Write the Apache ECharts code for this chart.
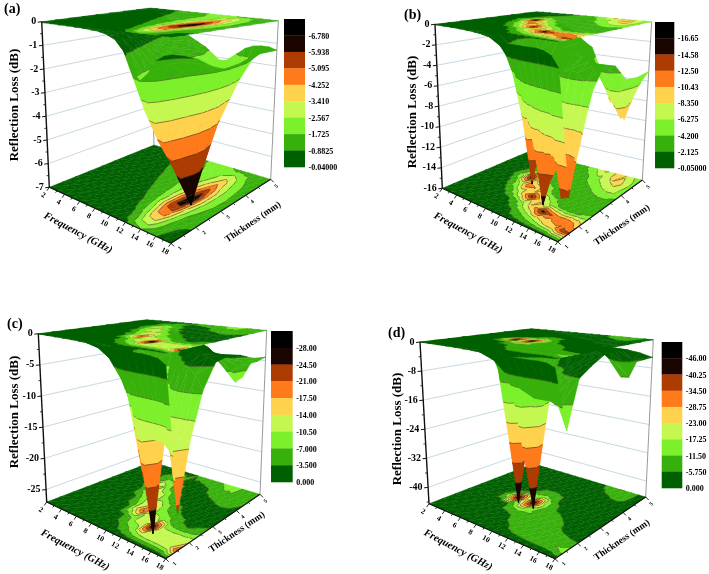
<!DOCTYPE html>
<html><head><meta charset="utf-8">
<style>html,body{margin:0;padding:0;background:#fff}#c{width:709px;height:574px}</style>
<script src="https://cdn.jsdelivr.net/npm/echarts@6/dist/echarts.min.js"></script>
</head><body><div id="c"></div>
<script>
const frequencies=[2,3,4,5,6,7,8,9,10,11,12,13,14,15,16,17,18];
const thicknesses=[1,1.5,2,2.5,3,3.5,4,4.5,5];
const freqTicks=[2,4,6,8,10,12,14,16,18];
const thickTicks=[1,2,3,4,5];
const bandColors=['#006000','#38b00c','#7cf02a','#c4f850','#ffd24d','#ff7a1a','#ad3c02','#1a0500','#000000'];

const surfaceA=[
[-.04,-.04,-.05,-.05,-.06,-.07,-.09,-.12,-.2,-.35,-.7,-1.3,-1.7,-1.4,-.9,-.7,-.6],
[-.04,-.05,-.05,-.06,-.07,-.1,-.14,-.22,-.35,-.7,-1.5,-3.0,-3.2,-2.0,-1.1,-.8,-.75],
[-.05,-.05,-.06,-.08,-.1,-.15,-.25,-.4,-.7,-1.2,-2.4,-4.3,-4.5,-2.7,-1.5,-1.1,-.95],
[-.05,-.06,-.08,-.1,-.15,-.25,-.4,-.7,-1.0,-1.7,-3.2,-5.4,-5.7,-3.3,-1.9,-1.4,-1.3],
[-.06,-.07,-.1,-.15,-.25,-.4,-.65,-.95,-1.3,-1.9,-3.0,-5.0,-7.2,-4.0,-2.3,-1.7,-1.55],
[-.06,-.09,-.15,-.25,-.4,-.6,-.9,-1.2,-1.5,-2.0,-2.9,-4.2,-5.8,-3.9,-2.4,-1.75,-1.5],
[-.07,-.12,-.2,-.4,-.6,-.85,-1.1,-1.4,-1.6,-1.9,-2.4,-3.3,-4.4,-3.2,-2.2,-1.6,-1.35],
[-.08,-.15,-.3,-.55,-.8,-1.0,-1.2,-1.4,-1.6,-1.9,-2.2,-2.6,-3.2,-2.6,-1.8,-1.4,-1.2],
[-.1,-.2,-.4,-.7,-1.0,-1.2,-1.4,-1.6,-1.9,-2.2,-2.1,-1.7,-1.4,-1.25,-1.2,-1.2,-1.3]];
const surfaceB=[
[-.05,-.06,-.08,-.1,-.15,-.2,-.3,-.45,-.7,-.8,-.8,-.8,-.8,-.8,-.9,-1.2,-2.1],
[-.06,-.08,-.1,-.15,-.2,-.3,-.6,-1,-2,-3.6,-5,-6.5,-8,-9.5,-10,-13.3,-13],
[-.07,-.1,-.15,-.2,-.5,-.9,-1.6,-3,-5.5,-8.5,-11,-15.4,-13,-11.5,-12,-11,-9],
[-.08,-.2,-.4,-.8,-1.6,-3,-6,-10,-14.8,-10.5,-7.5,-5,-3.8,-3.4,-3.6,-4.4,-5],
[-.08,-.3,-.6,-1.2,-3,-7,-12,-10.5,-7,-4.5,-3.2,-2.6,-2.4,-2.6,-2.8,-3,-3],
[-.06,-.25,-1,-2.6,-6.5,-16,-8,-5,-3.6,-2.8,-2.3,-2.2,-2.5,-3.2,-3.8,-3.8,-3.4],
[-.06,-.2,-.7,-1.6,-3.5,-5,-3.6,-2.9,-2.6,-2.5,-3,-3.8,-4.6,-5.8,-6.5,-6.4,-5],
[-.06,-.2,-.5,-1,-1.8,-2.2,-2.4,-2.3,-2.4,-3,-4.2,-5.6,-7,-8.4,-9.5,-7.4,-5.2],
[-.05,-.3,-.5,-.9,-1.3,-1.6,-2.2,-2.8,-3.3,-5,-6.8,-8.8,-7.4,-10.3,-8,-6.2,-5]];
const surfaceC=[
[-.05,-.08,-.1,-.12,-.15,-.2,-.25,-.3,-.4,-.5,-.6,-.6,-.6,-.6,-.7,-.9,-1.6],
[-.06,-.1,-.15,-.2,-.3,-.5,-.9,-1.8,-3.4,-6,-9,-12,-13,-13,-13,-14,-22],
[-.07,-.1,-.15,-.3,-.5,-.9,-1.6,-3.4,-7,-12,-13,-28,-13,-12.5,-13,-13,-13],
[-.08,-.12,-.2,-.4,-.7,-1.3,-3.5,-13,-21.5,-12,-11,-9,-6,-4,-3.6,-4.5,-6.5],
[-.1,-.2,-.3,-.6,-1.2,-3,-8,-13,-14,-10,-6,-4,-3,-2.4,-2.2,-2.4,-3],
[-.1,-.2,-.5,-1,-3,-9,-14,-12,-7,-4,-2.8,-2.2,-2,-2.1,-2.4,-2.5,-2.6],
[-.1,-.3,-.8,-2,-6,-13,-10,-5,-3,-2.2,-2,-2.2,-2.8,-3.6,-3.8,-3.6,-3],
[-.08,-.3,-1,-2.5,-4,-5,-4,-2.8,-2.4,-2.6,-3.2,-4.6,-6,-6.6,-5.6,-4.8,-4],
[-.05,-.2,-.6,-1.2,-1.8,-2.4,-3,-3.6,-4.5,-5.3,-6.3,-7.6,-9.3,-8.2,-5.8,-5.2,-4.4]];
const surfaceD=[
[-.05,-.1,-.15,-.2,-.3,-.4,-.5,-.6,-.7,-.8,-.9,-1,-1,-1,-1,-1.2,-2],
[-.05,-.1,-.15,-.2,-.3,-.5,-.9,-1.8,-4,-7,-9,-10,-11,-11,-11,-12,-17],
[-.06,-.1,-.15,-.3,-.5,-.9,-2,-5,-9,-11,-10,-9,-8,-7,-6.5,-6,-5.8],
[-.06,-.1,-.2,-.4,-1.5,-4,-12,-14,-12,-11,-11,-9,-7,-5,-4,-3.6,-3.5],
[-.06,-.15,-.3,-2.5,-16,-46,-22,-46,-20,-9,-6,-5,-3.5,-2.5,-2,-1.7,-1.5],
[-.06,-.2,-.4,-1,-3,-6,-11,-13,-10,-5,-3.5,-2.6,-2,-1.5,-1.2,-1.1,-1],
[-.08,-.2,-.5,-1,-2,-3,-3.8,-4,-3.2,-2.5,-2,-1.8,-1.5,-1.4,-1.4,-1.4,-1.5],
[-.1,-.2,-.5,-.9,-1.3,-1.8,-2,-2.2,-2,-2,-2.2,-3,-5,-6.5,-6.8,-5,-3],
[-.05,-.2,-.4,-.7,-1,-1.3,-1.6,-2,-2.4,-3.2,-4.5,-8,-12,-11.5,-6.5,-5.8,-5]];

const levelsA=['-6.780','-5.938','-5.095','-4.252','-3.410','-2.567','-1.725','-0.8825','-0.04000'];
const levelsB=['-16.65','-14.58','-12.50','-10.43','-8.350','-6.275','-4.200','-2.125','-0.05000'];
const levelsC=['-28.00','-24.50','-21.00','-17.50','-14.00','-10.50','-7.000','-3.500','0.000'];
const levelsD=['-46.00','-40.25','-34.50','-28.75','-23.00','-17.25','-11.50','-5.750','0.000'];
const zTicksA=[0,-1,-2,-3,-4,-5,-6,-7];
const zTicksB=[0,-2,-4,-6,-8,-10,-12,-14,-16];
const zTicksC=[0,-5,-10,-15,-20,-25];
const zTicksD=[0,-8,-16,-24,-32,-40];

const panels=[
{name:'(a)',z:surfaceA,levels:levelsA,zTicks:zTicksA,zMin:-7,
 floor:{L:[49.3,187.3],F:[171,243.3],R:[270.7,179.3],B:[154,145]},top:{L:[41.7,21.7],F:[172,37],R:[278.3,20.7],B:[150,8]},
 bar:[284,305,19,167],nameAt:[4,9.5],zTitle:[15,105],fTitle:[78,233],tTitle:[253,222]},
{name:'(b)',z:surfaceB,levels:levelsB,zTicks:zTicksB,zMin:-16,
 floor:{L:[442.3,188.3],F:[557.7,241.7],R:[642.3,180],B:[528.3,151.7]},top:{L:[435,24.3],F:[559,41.7],R:[651.7,21.7],B:[536.7,11.7]},
 bar:[655,674.3,22,168],nameAt:[404,15],zTitle:[413,112],fTitle:[468,233],tTitle:[622,225]},
{name:'(c)',z:surfaceC,levels:levelsC,zTicks:zTicksC,zMin:-27,
 floor:{L:[46.7,502],F:[165.7,558.7],R:[260,494.3],B:[151.7,462]},top:{L:[38.3,333.7],F:[166,353],R:[266.7,330.3],B:[146.7,319.7]},
 bar:[271,292.7,331,482],nameAt:[7,324],zTitle:[15,412],fTitle:[75,550],tTitle:[237,532]},
{name:'(d)',z:surfaceD,levels:levelsD,zTicks:zTicksD,zMin:-44.5,
 floor:{L:[429,503.7],F:[555,558.7],R:[645.7,497],B:[533.3,463.7]},top:{L:[420,342],F:[555,358.7],R:[653.3,339.7],B:[531.7,328.7]},
 bar:[661.7,682.3,342,488],nameAt:[388,333],zTitle:[398,429],fTitle:[458,550],tTitle:[622,540]}
];

const serif='"Liberation Serif","DejaVu Serif",serif';
function bil(q,u,v){
  const c=k=>(1-u)*(1-v)*q.L[k]+u*(1-v)*q.F[k]+u*v*q.R[k]+(1-u)*v*q.B[k];
  return [c(0),c(1)];
}
function project(p,f,t,z){
  const u=(f-2)/16,v=(t-1)/4,w=z/p.zMin;
  const a=bil(p.top,u,v),b=bil(p.floor,u,v);
  return [a[0]+(b[0]-a[0])*w,a[1]+(b[1]-a[1])*w];
}
function clipAbove(poly,lvl,keepHigh){
  const out=[];
  for(let i=0;i<poly.length;i++){
    const A=poly[i],B=poly[(i+1)%poly.length];
    const ia=keepHigh?A[2]>=lvl:A[2]<=lvl, ib=keepHigh?B[2]>=lvl:B[2]<=lvl;
    if(ia)out.push(A);
    if(ia!==ib){const s=(lvl-A[2])/(B[2]-A[2]);out.push([A[0]+(B[0]-A[0])*s,A[1]+(B[1]-A[1])*s,lvl]);}
  }
  return out;
}
function layer(p,api,mode,kids){
  const bounds=p.levels.slice(0,8).map(Number).reverse();
  const toXY=(pt)=>{
    const zz=mode==='surface'?pt[2]:(mode==='floor'?p.zMin:0);
    return api.coord(project(p,pt[0],pt[1],zz));
  };
  const tri=(T)=>{
    for(let b=0;b<9;b++){
      let poly=T;
      const hi=b===0?Infinity:bounds[b-1], lo=b===8?-Infinity:bounds[b];
      if(hi!==Infinity)poly=clipAbove(poly,hi,false);
      if(poly.length>2&&lo!==-Infinity)poly=clipAbove(poly,lo,true);
      if(poly.length<3)continue;
      const col=bandColors[b];
      kids.push({type:'polygon',shape:{points:poly.map(toXY)},style:{fill:col,stroke:col,lineWidth:.4},silent:true});
    }
    for(const l of bounds){
      const pts=[];
      for(let i=0;i<3;i++){
        const A=T[i],B=T[(i+1)%3];
        if((A[2]>l)!==(B[2]>l)){const s=(l-A[2])/(B[2]-A[2]);pts.push([A[0]+(B[0]-A[0])*s,A[1]+(B[1]-A[1])*s,l]);}
      }
      if(pts.length===2){
        const a=toXY(pts[0]),b=toXY(pts[1]);
        kids.push({type:'line',shape:{x1:a[0],y1:a[1],x2:b[0],y2:b[1]},style:{stroke:'#3c3c20',lineWidth:mode==='top'?.3:.6},silent:true});
      }
    }
  };
  for(let i=0;i<frequencies.length-1;i++){
    for(let j=thicknesses.length-2;j>=0;j--){
      const v=(a,b)=>[frequencies[a],thicknesses[b],p.z[b][a]];
      tri([v(i,j),v(i,j+1),v(i+1,j+1)]);
      tri([v(i,j),v(i+1,j+1),v(i+1,j)]);
    }
  }
}
function seg(api,a,b,stroke,w){
  const A=api.coord(a),B=api.coord(b);
  return {type:'line',shape:{x1:A[0],y1:A[1],x2:B[0],y2:B[1]},style:{stroke:stroke,lineWidth:w},silent:true};
}
function label(api,text,at,font,align,rot,fill){
  const P=api.coord(at);
  return {type:'text',x:P[0],y:P[1],rotation:rot||0,silent:true,
    style:{text:text,font:font,fill:fill||'#000',textAlign:align||'center',textVerticalAlign:'middle'}};
}
function renderPanel(p,api){
  const kids=[];
  const edge=(f,t,z)=>project(p,f,t,z);
  p.zTicks.forEach(z=>{
    if(z===0||z===p.zMin)return;
    kids.push(seg(api,edge(2,1,z),edge(2,5,z),'#c8d9e2',1));
    kids.push(seg(api,edge(2,5,z),edge(18,5,z),'#c8d9e2',1));
  });
  kids.push(seg(api,edge(2,5,0),edge(2,5,p.zMin),'#9a9a9a',1));
  kids.push(seg(api,edge(18,5,0),edge(18,5,p.zMin),'#9a9a9a',1));
  layer(p,api,'floor',kids);
  kids.push(seg(api,edge(2,1,p.zMin),edge(18,1,p.zMin),'#111',1.1));
  kids.push(seg(api,edge(18,1,p.zMin),edge(18,5,p.zMin),'#111',1.1));
  layer(p,api,'surface',kids);
  layer(p,api,'top',kids);
  kids.push(seg(api,edge(2,1,0),edge(2,1,p.zMin),'#111',1.4));
  const step=p.zTicks[0]-p.zTicks[1];
  p.zTicks.forEach(z=>{
    const q=edge(2,1,z);
    kids.push(seg(api,q,[q[0]-4,q[1]+.5],'#111',1));
    const m=z-step/2;
    if(m>p.zMin){const r=edge(2,1,m);kids.push(seg(api,r,[r[0]-2.2,r[1]+.3],'#111',.8));}
    kids.push(label(api,String(z),[q[0]-5.5,q[1]],'bold 10px '+serif,'right'));
  });
  for(let f=2;f<=18;f++){
    const q=edge(f,1,p.zMin),major=f%2===0;
    kids.push(seg(api,q,[q[0]-(major?2.4:1.3),q[1]+(major?3.4:1.8)],'#111',.9));
  }
  freqTicks.forEach(f=>{
    const q=edge(f,1,p.zMin);
    kids.push(label(api,String(f),[q[0]-6,q[1]+8],'bold 7.5px '+serif,'center',-0.5));
  });
  for(let t=1;t<=5;t+=.5){
    const q=edge(18,t,p.zMin),major=t%1===0;
    kids.push(seg(api,q,[q[0]+(major?3:1.6),q[1]+(major?3:1.6)],'#111',.9));
  }
  thickTicks.forEach(t=>{
    const q=edge(18,t,p.zMin);
    kids.push(label(api,String(t),[q[0]+9-(t-1)*.8,q[1]+5+(t-1)*.5],'bold 5.5px '+serif,'center',.8));
  });
  kids.push(label(api,'Reflection Loss (dB)',p.zTitle,'bold 13px '+serif,'center',Math.PI/2));
  kids.push(label(api,'Frequency (GHz)',p.fTitle,'italic bold 10.5px '+serif,'center',-0.49));
  kids.push(label(api,'Thickness (mm)',p.tTitle,'bold 9.5px '+serif,'center',0.6));
  kids.push(label(api,p.name,p.nameAt,'bold 14px '+serif,'left'));
  const [x0,x1,y0,y1]=p.bar,h=(y1-y0)/9;
  bandColors.slice().reverse().forEach((c,i)=>{
    const A=api.coord([x0,y0+i*h]),B=api.coord([x1,y0+(i+1)*h]);
    kids.push({type:'rect',shape:{x:A[0],y:A[1],width:B[0]-A[0],height:B[1]-A[1]+.3},style:{fill:c},silent:true});
  });
  p.levels.forEach((s,i)=>kids.push(label(api,s,[x1+3.5,y0+(i+1)*h+1],'bold 8px '+serif,'left')));
  return {type:'group',children:kids};
}
const chart=echarts.init(document.getElementById('c'),null,{renderer:'canvas'});
chart.setOption({
  animation:false,backgroundColor:'#fff',
  grid:{left:0,top:0,width:709,height:574},
  xAxis:{type:'value',min:0,max:709,show:false},
  yAxis:{type:'value',min:0,max:574,inverse:true,show:false},
  tooltip:{show:false},
  series:panels.map(p=>({type:'custom',coordinateSystem:'cartesian2d',clip:false,silent:true,
    data:[[0,0]],renderItem:(params,api)=>renderPanel(p,api)}))
});
</script></body></html>
